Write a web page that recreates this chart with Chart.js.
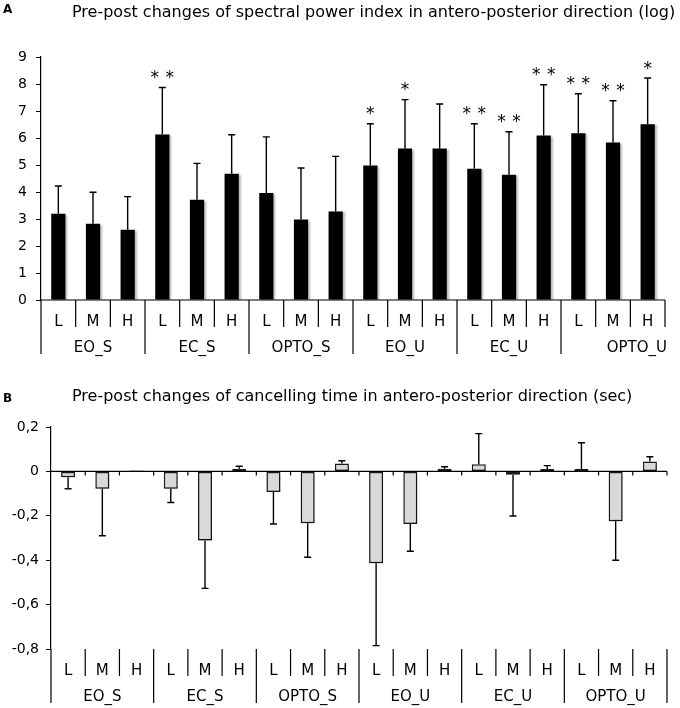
<!DOCTYPE html>
<html><head><meta charset="utf-8">
<script src="https://cdn.jsdelivr.net/npm/chart.js@4.4.0/dist/chart.umd.min.js"></script>
<style>
html,body{margin:0;padding:0;background:#fff;width:680px;height:708px;overflow:hidden;}
canvas{position:absolute;left:0}
.t{position:absolute;font-family:'DejaVu Sans';white-space:nowrap;line-height:1;color:#000;z-index:2}
</style></head><body>
<canvas id="ca" style="top:0;width:680px;height:360px"></canvas>
<canvas id="cb" style="top:360px;width:680px;height:348px"></canvas>
<div class="t" style="left:3px;top:3px;font-size:12px;font-weight:bold">A</div>
<div class="t" style="left:72px;top:3.5px;font-size:16px">Pre-post changes of spectral power index in antero-posterior direction (log)</div>
<div class="t" style="left:3px;top:392px;font-size:12px;font-weight:bold">B</div>
<div class="t" style="left:72px;top:388px;font-size:16px">Pre-post changes of cancelling time in antero-posterior direction (sec)</div>
<script>
const groups = ['EO_S','EC_S','OPTO_S','EO_U','EC_U','OPTO_U'];
const levels = ['L','M','H'];
const categories = groups.flatMap(g => levels.map(l => g + ' ' + l));

const powerValues = [3.19,2.82,2.60, 6.13,3.71,4.68, 3.96,2.98,3.28, 4.98,5.61,5.61, 4.86,4.64,6.09, 6.18,5.83,6.51];
const powerSD     = [1.03,1.17,1.23, 1.74,1.35,1.44, 2.08,1.91,2.04, 1.55,1.81,1.65, 1.67,1.59,1.88, 1.46,1.55,1.71];
const powerStars  = [0,0,0, 2,0,0, 0,0,0, 1,1,0, 2,2,2, 2,2,1];
const powerYTicks = [0,1,2,3,4,5,6,7,8,9];
const powerYTickLabels = ['0','1','2','3','4','5','6','7','8','9'];

const cancelValues = [-0.026,-0.078,0.004, -0.078,-0.311,0.012, -0.093,-0.233,0.036, -0.414,-0.237,0.012, 0.032,-0.015,0.011, 0.011,-0.224,0.045];
const cancelSD     = [0.052,0.212,0, 0.062,0.216,0.011, 0.144,0.154,0.012, 0.371,0.123,0.009, 0.138,0.186,0.015, 0.118,0.176,0.021];
const cancelYTicks = [-0.8,-0.6,-0.4,-0.2,0,0.2];
const cancelYTickLabels = ['-0,8','-0,6','-0,4','-0,2','0','0,2'];

const FONT = "'DejaVu Sans'";

const catAxisPlugin = {
  id: 'catAxis',
  beforeDatasetsDraw(chart) {
    const o = chart.options.plugins.catAxis;
    const ctx = chart.ctx;
    ctx.save();
    ctx.shadowColor = o.shadowColor;
    ctx.shadowBlur = o.shadowBlur;
    ctx.shadowOffsetX = o.shadowX;
    ctx.shadowOffsetY = o.shadowY;
  },
  afterDatasetsDraw(chart) {
    const ctx = chart.ctx;
    ctx.restore();
    const o = chart.options.plugins.catAxis;
    const xs = chart.scales.x, ys = chart.scales.y;
    const meta = chart.getDatasetMeta(0);
    const vals = o.values, sds = o.sds;
    const n = vals.length;
    // error bars
    ctx.save();
    ctx.strokeStyle = '#000';
    ctx.lineWidth = 1.4;
    for (let i = 0; i < n; i++) {
      const sd = sds[i];
      if (!sd) continue;
      const v = vals[i];
      const end = v + (v >= 0 ? sd : -sd);
      const x = meta.data[i].x;
      const y1 = ys.getPixelForValue(v), y2 = ys.getPixelForValue(end);
      ctx.beginPath();
      ctx.moveTo(x, y1); ctx.lineTo(x, y2);
      ctx.moveTo(x - 3.5, y2); ctx.lineTo(x + 3.5, y2);
      ctx.stroke();
    }
    // stars
    if (o.stars) {
      ctx.fillStyle = '#000';
      ctx.font = '17px ' + FONT;
      ctx.textAlign = 'center';
      ctx.textBaseline = 'alphabetic';
      for (let i = 0; i < n; i++) {
        const k = o.stars[i];
        if (!k) continue;
        const x = meta.data[i].x;
        const y = ys.getPixelForValue(vals[i] + sds[i]) - 4.5;
        if (k === 1) ctx.fillText('*', x, y);
        else { ctx.fillText('*', x - 7.5, y); ctx.fillText('*', x + 7.5, y); }
      }
    }
    // zero line
    const y0 = ys.getPixelForValue(0);
    ctx.lineWidth = 1.2;
    ctx.beginPath();
    ctx.moveTo(xs.left, y0); ctx.lineTo(xs.right, y0);
    ctx.stroke();
    const step = (xs.right - xs.left) / n;
    const bounds = [];
    for (let i = 0; i <= n; i++) bounds.push(xs.left + i * step);
    if (o.zeroTicks) {
      ctx.beginPath();
      for (let i = 1; i <= n; i++) { ctx.moveTo(bounds[i], y0); ctx.lineTo(bounds[i], y0 + 4); }
      ctx.stroke();
    }
    // category separators & labels below plot
    const base = o.labelsAtBottom ? ys.bottom : y0;
    ctx.lineWidth = 1.2;
    ctx.beginPath();
    for (let i = 0; i <= n; i++) {
      const isGroup = i % 3 === 0;
      let len = isGroup ? 54 : 27;
      if (i === n && o.lastShort) len = 27;
      ctx.moveTo(bounds[i], base); ctx.lineTo(bounds[i], base + len);
    }
    ctx.stroke();
    ctx.fillStyle = '#000';
    ctx.font = '15px ' + FONT;
    ctx.textAlign = 'center';
    ctx.textBaseline = 'alphabetic';
    for (let i = 0; i < n; i++) {
      ctx.fillText(levels[i % 3], (bounds[i] + bounds[i + 1]) / 2, base + 25.5);
    }
    for (let g = 0; g < groups.length; g++) {
      if (g === groups.length - 1 && o.lastRight) {
        ctx.textAlign = 'right';
        ctx.fillText(groups[g], xs.right + 2, base + 51.5);
        ctx.textAlign = 'center';
      } else {
        ctx.fillText(groups[g], (bounds[g * 3] + bounds[g * 3 + 3]) / 2, base + 51.5);
      }
    }
    ctx.restore();
  }
};

function tickCb(ticksArr, labelsArr) {
  return v => {
    const i = ticksArr.findIndex(t => Math.abs(t - v) < 1e-6);
    return i >= 0 ? labelsArr[i] : '';
  };
}

new Chart(document.getElementById('ca'), {
  type: 'bar',
  data: {
    labels: categories,
    datasets: [{ data: powerValues, backgroundColor: '#000', borderWidth: 0,
      categoryPercentage: 1, barPercentage: 0.41 }]
  },
  options: {
    responsive: false, animation: false,
    layout: { padding: { top: 57, right: 15, bottom: 60, left: 0 } },
    plugins: {
      legend: { display: false }, tooltip: { enabled: false },
      catAxis: { values: powerValues, sds: powerSD, stars: powerStars, zeroTicks: false,
        labelsAtBottom: false, lastShort: true, lastRight: true,
        shadowColor: 'rgba(0,0,0,0.28)', shadowBlur: 2, shadowX: 2, shadowY: 1 }
    },
    scales: {
      x: { display: false },
      y: {
        min: powerYTicks[0], max: powerYTicks[powerYTicks.length - 1],
        afterFit: s => { s.width = 41; },
        afterBuildTicks: s => { s.ticks = powerYTicks.map(v => ({ value: v })); },
        grid: { display: true, drawOnChartArea: false, drawTicks: true, tickLength: 5, color: '#000', lineWidth: 1 },
        border: { display: true, color: '#000', width: 1.2 },
        ticks: { autoSkip: false, padding: 9, color: '#000', font: { family: 'DejaVu Sans', size: 14 },
          callback: tickCb(powerYTicks, powerYTickLabels) }
      }
    }
  },
  plugins: [catAxisPlugin]
});

new Chart(document.getElementById('cb'), {
  type: 'bar',
  data: {
    labels: categories,
    datasets: [{ data: cancelValues, backgroundColor: '#d9d9d9', borderColor: '#1a1a1a', borderWidth: 1.5,
      borderSkipped: false, categoryPercentage: 1, barPercentage: 0.41 }]
  },
  options: {
    responsive: false, animation: false,
    layout: { padding: { top: 67, right: 13, bottom: 59, left: 0 } },
    plugins: {
      legend: { display: false }, tooltip: { enabled: false },
      catAxis: { values: cancelValues, sds: cancelSD, stars: null, zeroTicks: true,
        labelsAtBottom: true, lastShort: false, lastRight: false,
        shadowColor: 'rgba(0,0,0,0.35)', shadowBlur: 3, shadowX: 1, shadowY: 3 }
    },
    scales: {
      x: { display: false },
      y: {
        min: cancelYTicks[0], max: cancelYTicks[cancelYTicks.length - 1],
        afterFit: s => { s.width = 51; },
        afterBuildTicks: s => { s.ticks = cancelYTicks.map(v => ({ value: v })); },
        grid: { display: true, drawOnChartArea: false, drawTicks: true, tickLength: 5, color: '#000', lineWidth: 1 },
        border: { display: true, color: '#000', width: 1.2 },
        ticks: { autoSkip: false, padding: 7, color: '#000', font: { family: 'DejaVu Sans', size: 14 },
          callback: tickCb(cancelYTicks, cancelYTickLabels) }
      }
    }
  },
  plugins: [catAxisPlugin]
});
</script>
</body></html>
